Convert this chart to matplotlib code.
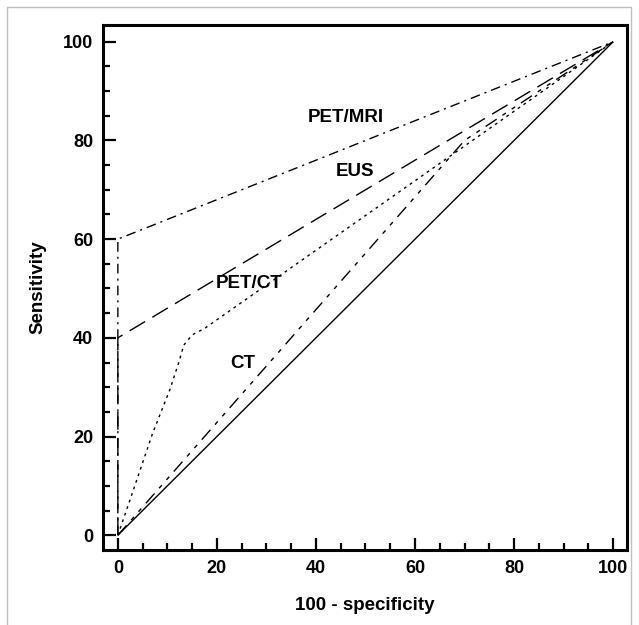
import matplotlib
matplotlib.use("Agg")
import matplotlib.pyplot as plt
from matplotlib.ticker import MultipleLocator
from matplotlib.patches import Rectangle

plt.rcParams['font.family'] = ['Liberation Sans', 'DejaVu Sans']
plt.rcParams['font.weight'] = 'bold'

# Data (100 - specificity, sensitivity)
diag_x = [0, 100]
diag_y = [0, 100]
petmri_x = [0, 0, 100]
petmri_y = [0, 60, 100]
eus_x = [0, 0, 100]
eus_y = [0, 40, 100]
petct_x = [0, 2.4, 7, 10.5, 12.3, 13.3, 15, 17.5, 100]
petct_y = [0, 7, 20.6, 29.5, 35, 38.5, 40.6, 41.9, 100]
ct_x = [0, 70, 100]
ct_y = [0, 80, 100]

labels = ["PET/MRI", "EUS", "PET/CT", "CT"]
label_x = [46.0, 47.8, 26.5, 25.3]
label_y = [84.6, 73.8, 51.0, 34.7]

ticks = [0, 20, 40, 60, 80, 100]

W, H = 639, 625
fig = plt.figure(figsize=(W / 100, H / 100), dpi=100)
ax = fig.add_axes([103 / W, 1 - 550 / H, 524 / W, 525 / H])

lw = 1.0
ax.plot(diag_x, diag_y, color='black', lw=lw, solid_capstyle='butt')
ax.plot(petmri_x, petmri_y, color='black', lw=lw, dashes=(7, 3.6, 1.5, 3.6))
ax.plot(eus_x, eus_y, color='black', lw=lw, dashes=(13, 6))
ax.plot(petct_x, petct_y, color='black', lw=lw, dashes=(2, 3))
ax.plot(ct_x, ct_y, color='black', lw=lw, dashes=(9.5, 5, 3, 5, 3, 5))

for t, x, y in zip(labels, label_x, label_y):
    ax.text(x, y, t, ha='center', va='center', fontsize=13.5, fontweight='bold')

ax.set_xlim(-3, 102.8)
ax.set_ylim(-3, 103.4)
ax.set_xticks(ticks)
ax.set_yticks(ticks)
ax.xaxis.set_minor_locator(MultipleLocator(5))
ax.yaxis.set_minor_locator(MultipleLocator(5))
ax.tick_params(which='major', direction='in', length=9, width=1.6, labelsize=13, pad=7,
               top=False, right=False)
ax.tick_params(which='minor', direction='in', length=5, width=1.6, top=False, right=False)
for lab in ax.get_xticklabels() + ax.get_yticklabels():
    lab.set_fontweight('bold')
for s in ax.spines.values():
    s.set_linewidth(2.2)

fig.text(365 / W, 1 - 606 / H, "100 - specificity", ha='center', va='center',
         fontsize=13.5, fontweight='bold')
fig.text(38 / W, 1 - 287 / H, "Sensitivity", ha='center', va='center', rotation=90,
         fontsize=13.5, fontweight='bold')

border = Rectangle((7 / W, -0.1), (631 - 7) / W, 1 - 7 / H + 0.1, transform=fig.transFigure,
                   fill=False, edgecolor='#c0c0c0', lw=1.0, clip_on=False)
fig.patches.append(border)

fig.savefig("out.png", dpi=100)
